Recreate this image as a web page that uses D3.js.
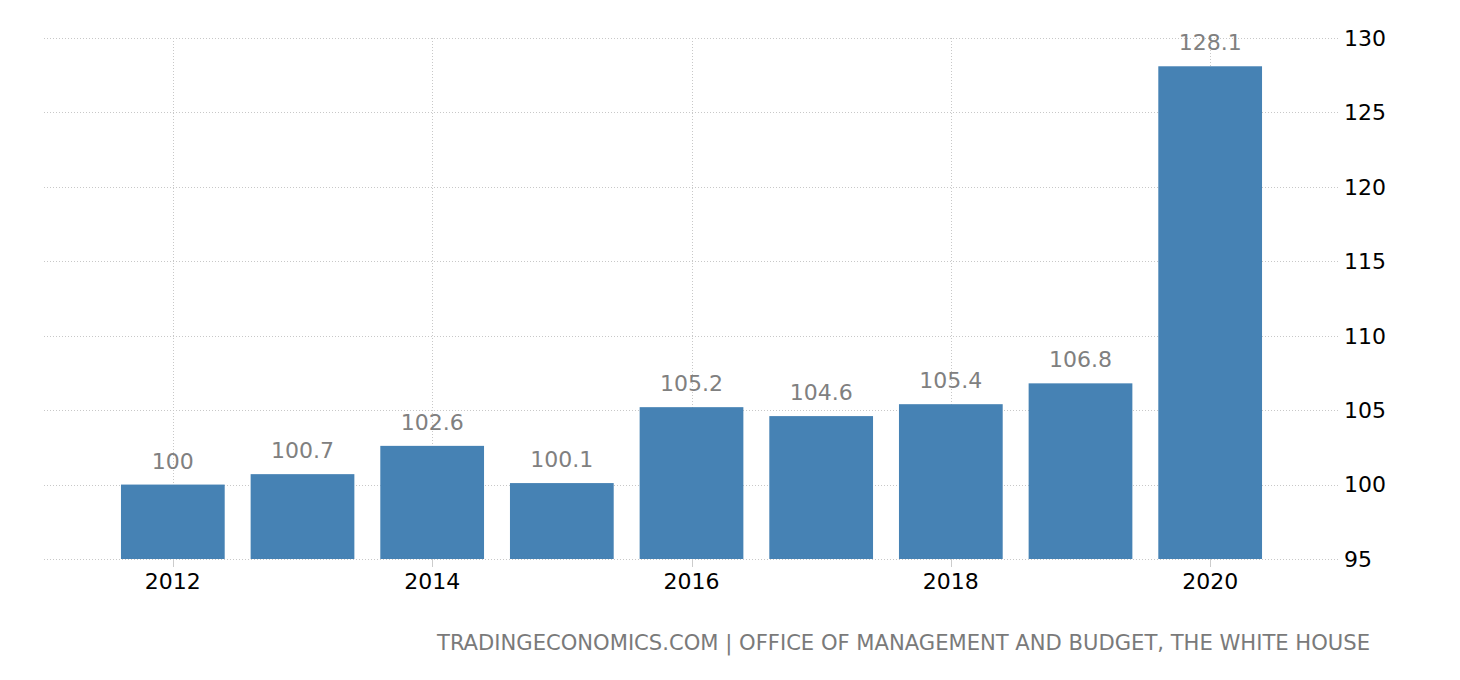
<!DOCTYPE html>
<html><head><meta charset="utf-8">
<script src="https://cdn.jsdelivr.net/npm/d3@7"></script>
<style>body{margin:0;background:#fff}svg{display:block}</style>
</head><body>
<svg id="c" width="1460" height="680"></svg>
<script>
const years = [2012, 2013, 2014, 2015, 2016, 2017, 2018, 2019, 2020];
const values = [100, 100.7, 102.6, 100.1, 105.2, 104.6, 105.4, 106.8, 128.1];
const yTicks = [95, 100, 105, 110, 115, 120, 125, 130];
const xTickYears = [2012, 2014, 2016, 2018, 2020];
const footer = "TRADINGECONOMICS.COM | OFFICE OF MANAGEMENT AND BUDGET, THE WHITE HOUSE";

const svg = d3.select("#c");
const font = "'DejaVu Sans', Tahoma, sans-serif";
const x = d3.scaleBand().domain(years).range([108, 1275]).paddingInner(0.2).paddingOuter(0.1);
const y = d3.scaleLinear().domain([95, 130]).range([559, 38]);
const gridL = 44, gridR = 1338;

// horizontal grid
svg.append("g").selectAll("line").data(yTicks).join("line")
  .attr("x1", gridL).attr("x2", gridR)
  .attr("y1", d => Math.round(y(d)) + 0.5).attr("y2", d => Math.round(y(d)) + 0.5)
  .attr("stroke", "#c8c8c8").attr("stroke-dasharray", "1,2").attr("stroke-width", 1);
// vertical grid
svg.append("g").selectAll("line").data(xTickYears).join("line")
  .attr("x1", d => Math.round(x(d) + x.bandwidth()/2) + 0.5).attr("x2", d => Math.round(x(d) + x.bandwidth()/2) + 0.5)
  .attr("y1", y(130)).attr("y2", y(95))
  .attr("stroke", "#c8c8c8").attr("stroke-dasharray", "1,2").attr("stroke-width", 1);
// tick marks
svg.append("g").selectAll("line").data(xTickYears).join("line")
  .attr("x1", d => Math.round(x(d) + x.bandwidth()/2) + 0.5).attr("x2", d => Math.round(x(d) + x.bandwidth()/2) + 0.5)
  .attr("y1", y(95)).attr("y2", y(95) + 8)
  .attr("stroke", "#cccccc").attr("stroke-width", 1);

// bars
svg.append("g").selectAll("rect").data(years).join("rect")
  .attr("x", d => x(d)).attr("width", x.bandwidth())
  .attr("y", (d, i) => y(values[i])).attr("height", (d, i) => y(95) - y(values[i]))
  .attr("fill", "#4682b4");

// value labels
svg.append("g").selectAll("text").data(years).join("text")
  .attr("x", d => x(d) + x.bandwidth()/2)
  .attr("y", (d, i) => y(values[i]) - 16)
  .attr("text-anchor", "middle")
  .attr("font-family", font).attr("font-size", 22).attr("fill", "#808080")
  .text((d, i) => values[i]);

// y labels
svg.append("g").selectAll("text").data(yTicks).join("text")
  .attr("x", 1344).attr("y", d => y(d)).attr("dy", "0.36em")
  .attr("font-family", font).attr("font-size", 22).attr("fill", "#000")
  .text(d => d);

// x labels
svg.append("g").selectAll("text").data(xTickYears).join("text")
  .attr("x", d => x(d) + x.bandwidth()/2).attr("y", 589)
  .attr("text-anchor", "middle")
  .attr("font-family", font).attr("font-size", 22).attr("fill", "#000")
  .text(d => d);

// footer
svg.append("text").attr("x", 1370).attr("y", 650).attr("text-anchor", "end")
  .attr("font-family", "'DejaVu Sans Condensed', 'DejaVu Sans', sans-serif").attr("font-size", 21)
  .attr("fill", "#7a7a7a").attr("textLength", 933).attr("lengthAdjust", "spacingAndGlyphs")
  .text(footer);
</script>
</body></html>
